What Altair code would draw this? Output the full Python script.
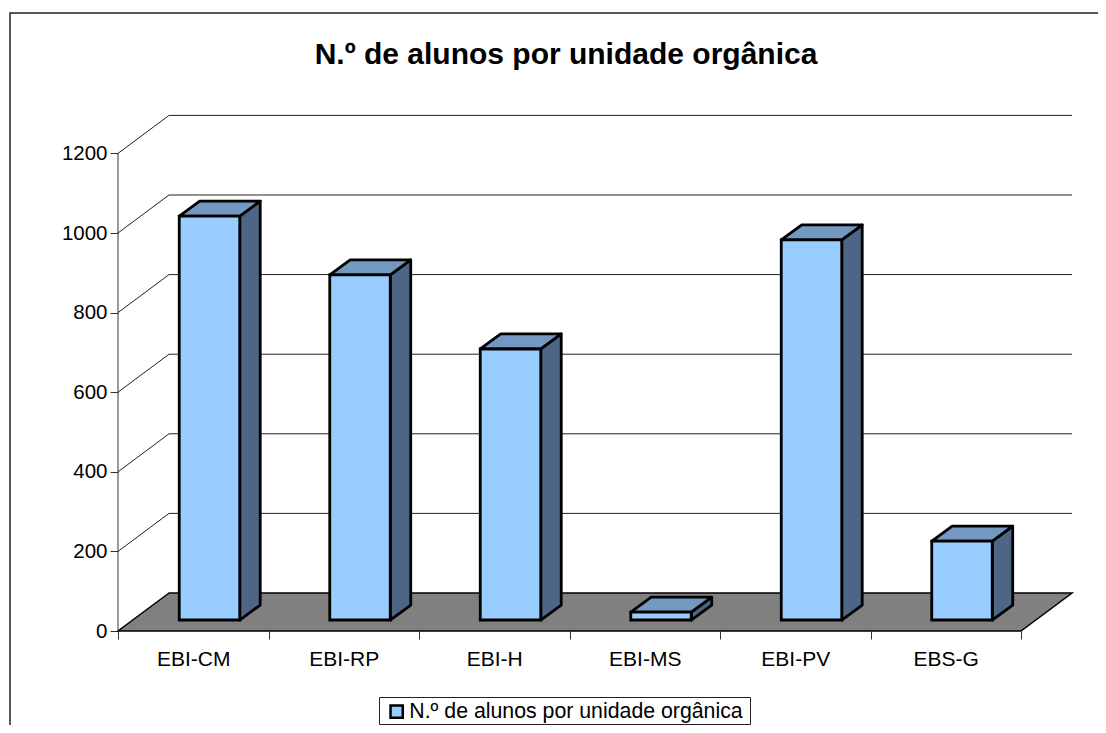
import altair as alt
import pandas as pd

categories = ["EBI-CM", "EBI-RP", "EBI-H", "EBI-MS", "EBI-PV", "EBS-G"]
values = [1015, 867, 681, 20, 955, 198]
y_ticks = [0, 200, 400, 600, 800, 1000, 1200]
series_name = "N.º de alunos por unidade orgânica"

# scene geometry in data units
DX, DY = 0.339, 95.5          # full floor depth
BAR_L, BAR_W = 0.407, 0.402   # bar position within a category
BASE = 27.6                   # front-face baseline lifted by its place on the floor
SDX, SDY = 0.136, 37.7        # depth of a bar
XMAX, YMAX = 954 / 150.5, 516 / 0.398

x_scale = alt.Scale(domain=[0, XMAX], nice=False, zero=False)
y_scale = alt.Scale(domain=[0, YMAX], nice=False, zero=False)
X = alt.X("x:Q", scale=x_scale, title=None)
Y = alt.Y("y:Q", scale=y_scale, title=None)

front = pd.DataFrame([
    {"cat": c, "x": i + BAR_L, "x2": i + BAR_L + BAR_W, "y": BASE, "y2": BASE + v, "series": series_name}
    for i, (c, v) in enumerate(zip(categories, values))
])
side, top = [], []
for i, (c, v) in enumerate(zip(categories, values)):
    r = i + BAR_L + BAR_W
    l = i + BAR_L
    side += [
        {"cat": c, "x": r, "y": BASE, "y2": BASE + v},
        {"cat": c, "x": r + SDX, "y": BASE + SDY, "y2": BASE + v + SDY},
    ]
    top += [
        {"cat": c, "y": BASE + v, "x": l, "x2": r},
        {"cat": c, "y": BASE + v + SDY, "x": l + SDX, "x2": r + SDX},
    ]
side, top = pd.DataFrame(side), pd.DataFrame(top)

floor = pd.DataFrame([
    {"y": 0, "x": 0, "x2": 6},
    {"y": DY, "x": DX, "x2": 6 + DX},
])
grid = pd.DataFrame([{"x": DX, "x2": 6 + DX, "y": v + DY, "y2": v + DY} for v in y_ticks[1:]])
diag = pd.DataFrame([{"x": 0, "x2": DX, "y": v, "y2": v + DY} for v in y_ticks[1:]])
axis_line = pd.DataFrame([{"x": 0, "y": 0, "y2": y_ticks[-1]}])
one_row = pd.DataFrame([{"k": 1}])

names_js = "[" + ",".join(f"'{c}'" for c in categories) + "]"
x_axis = alt.Axis(
    values=[k / 2 for k in range(13)],
    labelExpr=f"datum.value % 1 == 0 ? '' : {names_js}[floor(datum.value)]",
    tickOpacity={"expr": "datum.value % 1 == 0 ? 1 : 0"},
    tickSize=8, tickColor="#333333", domain=False, grid=False,
    labelFontSize=21, labelColor="black", labelPadding=9, labelOverlap=False, labelFlush=False,
    labelFont="Liberation Sans",
)
y_axis = alt.Axis(
    values=y_ticks, format="d", tickSize=8, tickColor="#333333", domain=False, grid=False,
    labelFontSize=20.5, labelColor="black", labelPadding=3, labelFont="Liberation Sans",
)

frame = alt.Chart(one_row).mark_rect(fill="transparent", stroke="#222222", strokeWidth=1.5, clip=False).encode(
    x=alt.value(-108), x2=alt.value(1040), y=alt.value(-102), y2=alt.value(640)
)
legend_box = alt.Chart(one_row).mark_rect(fill="white", stroke="#222222", strokeWidth=1, clip=False).encode(
    x=alt.value(261.5), x2=alt.value(632.5), y=alt.value(582.5), y2=alt.value(609.5)
)
floor_l = alt.Chart(floor).mark_area(orient="horizontal", color="#808080", stroke="black", strokeWidth=1.5, opacity=1).encode(
    x=alt.X("x:Q", scale=x_scale, title=None, axis=x_axis), x2="x2:Q",
    y=alt.Y("y:Q", scale=y_scale, title=None, axis=y_axis, stack=None),
)
grid_l = alt.Chart(grid).mark_rule(color="#222222", strokeWidth=1).encode(x=X, x2="x2:Q", y=Y)
diag_l = alt.Chart(diag).mark_rule(color="#222222", strokeWidth=1).encode(x=X, x2="x2:Q", y=Y, y2="y2:Q")
axis_l = alt.Chart(axis_line).mark_rule(color="#333333", strokeWidth=1).encode(x=X, y=Y, y2="y2:Q")
side_l = alt.Chart(side).mark_area(color="#4E6685", stroke="black", strokeWidth=2.8, strokeJoin="round", opacity=1).encode(
    x=X, y=alt.Y("y:Q", scale=y_scale, title=None, stack=None), y2="y2:Q", detail="cat:N"
)
top_l = alt.Chart(top).mark_area(orient="horizontal", color="#7399C2", stroke="black", strokeWidth=2.8, strokeJoin="round", opacity=1).encode(
    x=X, x2="x2:Q", y=alt.Y("y:Q", scale=y_scale, title=None, stack=None), detail="cat:N"
)
front_l = alt.Chart(front).mark_rect(stroke="black", strokeWidth=2.8, opacity=1).encode(
    x=X, x2="x2:Q", y=Y, y2="y2:Q",
    color=alt.Color("series:N", scale=alt.Scale(domain=[series_name], range=["#99CCFF"]),
                    legend=alt.Legend(
                        title=None, orient="none", legendX=268, legendY=586,
                        symbolType="square", symbolSize=150, symbolStrokeColor="black",
                        symbolStrokeWidth=2.5, symbolOpacity=1, labelFontSize=21.3, labelLimit=500,
                        labelColor="black", labelFont="Liberation Sans", labelOffset=2,
                        padding=0,
                    )),
)

chart = alt.layer(frame, legend_box, floor_l, grid_l, diag_l, axis_l, side_l, top_l, front_l).properties(
    width=954, height=516,
    padding={"left": 110, "top": 107, "right": 26, "bottom": 94},
    autosize=alt.AutoSizeParams(type="none"),
    background="white",
    title=alt.TitleParams(
        series_name, anchor="middle", dx=-29, offset=0, dy=58, fontSize=30, fontWeight="bold",
        font="Liberation Sans", color="black",
    ),
).configure_view(stroke=None)

chart.save("out.html", embed_options={"renderer": "svg", "actions": False})
